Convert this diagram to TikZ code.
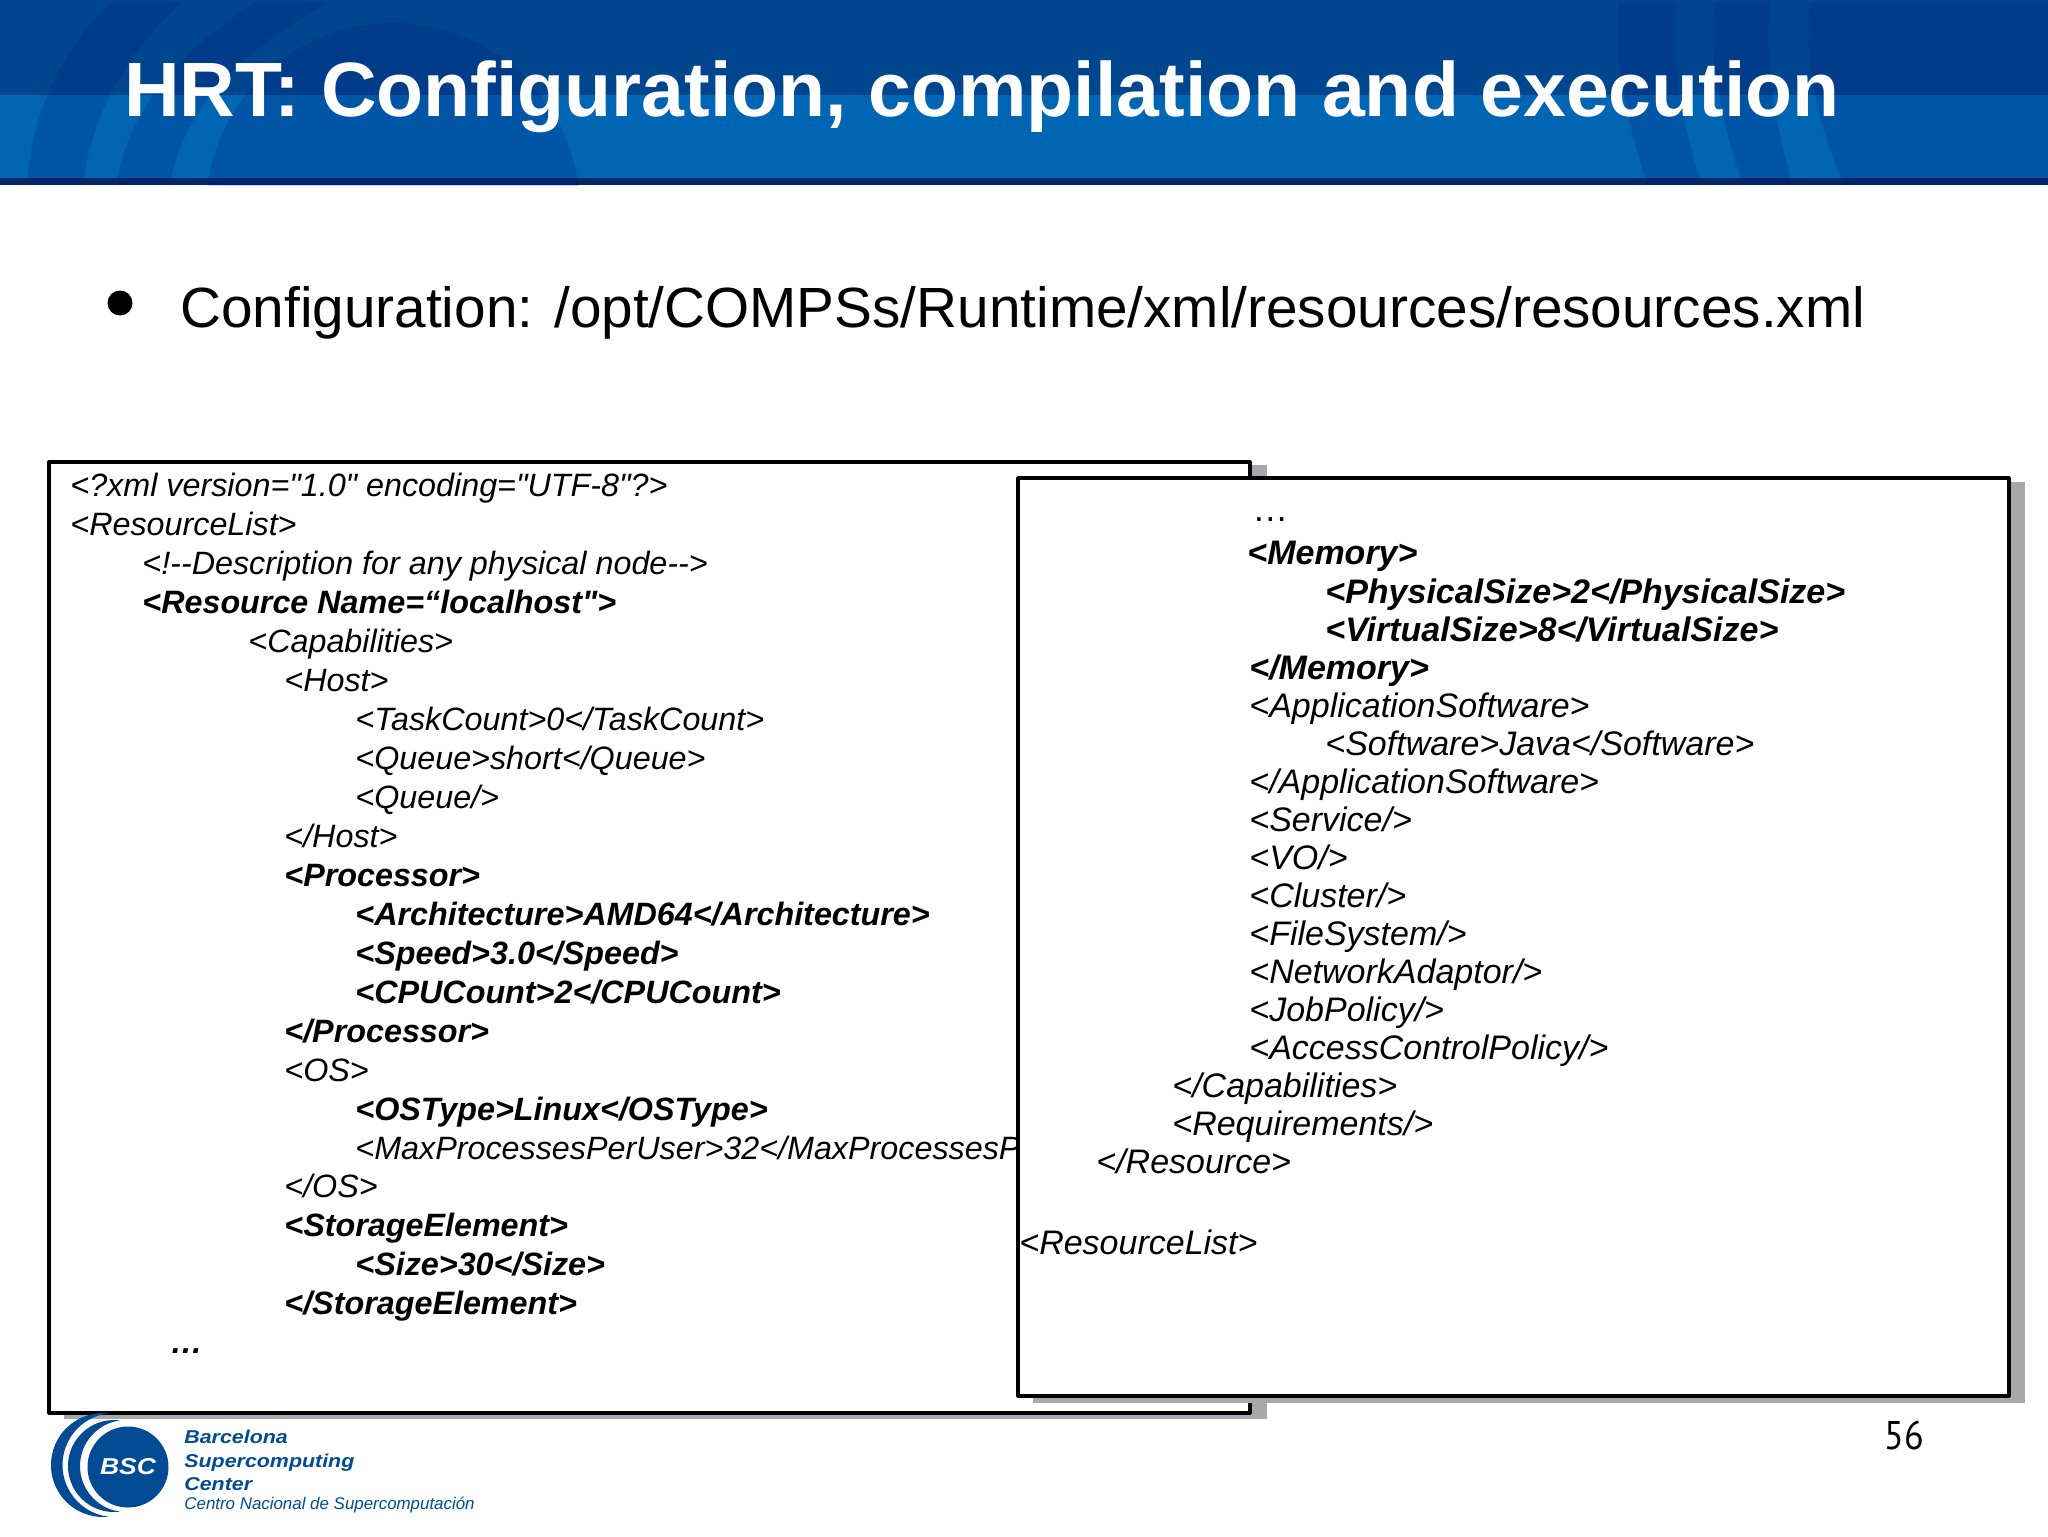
\documentclass[tikz,border=0pt]{standalone}
\usepackage{fontspec}
\setmainfont[Ligatures=TeXOff]{Liberation Sans}
\newfontfamily\logofont[FakeStretch=1.15]{Liberation Sans}
\newfontfamily\pagefont[FakeStretch=.9]{PT Sans}
\definecolor{bandtop}{RGB}{0,70,143}
\definecolor{bandlow}{RGB}{0,102,179}
\definecolor{bandline}{RGB}{0,40,105}
\definecolor{bandarc}{RGB}{0,20,120}
\definecolor{boxshade}{RGB}{169,167,171}
\definecolor{bscblue}{RGB}{0,75,147}
\tikzset{
	xmlnode/.style={anchor=base west,inner sep=0pt,font=\fontsize{16.15}{19}\selectfont\itshape},
	xmlbold/.style={xmlnode,font=\fontsize{16.15}{19}\selectfont\itshape\bfseries},
	memnode/.style={anchor=base west,inner sep=0pt,font=\fontsize{17}{20}\selectfont\itshape},
	membold/.style={memnode,font=\fontsize{17}{20}\selectfont\itshape\bfseries},
	panel/.style={draw=black,line width=1.6pt,fill=white},
	arcshade/.style={fill=bandarc,fill opacity=.2},
	logotext/.style={anchor=base west,inner sep=0pt,text=bscblue}
}
\begin{document}
\begin{tikzpicture}[x=0.5pt,y=-0.5pt,line join=round]
	\useasboundingbox (0,0) rectangle (2048,1536);
	% title band
	\fill[bandtop] (0,0) rectangle (2048,95);
	\fill[bandlow] (0,95) rectangle (2048,178);
	\fill[bandline] (0,178) rectangle (2048,185);
	\begin{scope}
		\clip (0,3) rectangle (2048,185);
		\fill[arcshade] (27,185) .. controls (32,110) and (62,50) .. (110,3) -- (181,3) .. controls (130,50) and (92,110) .. (83,185) -- cycle;
		\fill[arcshade] (116,185) .. controls (128,110) and (180,50) .. (255,3) -- (328,3) .. controls (240,50) and (182,110) .. (170,185) -- cycle;
		\fill[arcshade] (393,210) circle[radius=93.5pt];
		\fill[arcshade] (1619,3) .. controls (1613,50) and (1625,120) .. (1648,185) -- (1702,185) .. controls (1680,120) and (1671,50) .. (1677,3) -- cycle;
		\fill[arcshade] (1714,3) .. controls (1708,50) and (1720,120) .. (1743,185) -- (1793,185) .. controls (1773,120) and (1764,50) .. (1770,3) -- cycle;
		\fill[arcshade] (1809,3) .. controls (1806,60) and (1815,120) .. (1844,185) -- (2048,185) -- (2048,3) -- cycle;
	\end{scope}
	\node[anchor=base west,inner sep=0pt,text=white,font=\fontsize{38.5}{44}\selectfont\bfseries] (title) at (124,117) {HRT: Configuration, compilation and execution};
	% bullet
	\node[circle,fill=black,inner sep=0pt,minimum size=12.5pt] (dot) at (120,303) {};
	\node[anchor=base west,inner sep=0pt,font=\fontsize{28.35}{34}\selectfont] (config) at (180,327) {Configuration: /opt/COMPSs/Runtime/xml/resources/resources.xml};
	% left listing
	\fill[boxshade] (64,465) rectangle (1267,1419);
	\draw[panel] (49,462) rectangle (1250,1413);
	\node[xmlnode] (xmlhead) at (70,496) {<?xml version="1.0" encoding="UTF-8"?>};
	\node[xmlnode] (reslist) at (70,535) {<ResourceList>};
	\node[xmlnode] (descr) at (142,574) {<!--Description for any physical node-->};
	\node[xmlbold] (res) at (142,613) {<Resource Name=“localhost">};
	\node[xmlnode] (capab) at (248,652) {<Capabilities>};
	\node[xmlnode] (host) at (284,691) {<Host>};
	\node[xmlnode] (task) at (355,730) {<TaskCount>0</TaskCount>};
	\node[xmlnode] (queue) at (355,769) {<Queue>short</Queue>};
	\node[xmlnode] (queueb) at (355,808) {<Queue/>};
	\node[xmlnode] (hostend) at (284,847) {</Host>};
	\node[xmlbold] (proc) at (284,886) {<Processor>};
	\node[xmlbold] (arch) at (355,925) {<Architecture>AMD64</Architecture>};
	\node[xmlbold] (speed) at (355,964) {<Speed>3.0</Speed>};
	\node[xmlbold] (cpu) at (355,1003) {<CPUCount>2</CPUCount>};
	\node[xmlbold] (procend) at (284,1042) {</Processor>};
	\node[xmlnode] (os) at (284,1081) {<OS>};
	\node[xmlbold] (ostype) at (355,1120) {<OSType>Linux</OSType>};
	\node[xmlnode] (maxproc) at (355,1159) {<MaxProcessesPerUser>32</MaxProcessesPerUser>};
	\node[xmlnode] (osend) at (284,1197) {</OS>};
	\node[xmlbold] (stor) at (284,1236) {<StorageElement>};
	\node[xmlbold] (size) at (355,1275) {<Size>30</Size>};
	\node[xmlbold] (storend) at (284,1314) {</StorageElement>};
	\node[xmlbold] (dotsa) at (170,1353) {…};
	% right listing
	\fill[boxshade] (1033,482) rectangle (2025,1403);
	\draw[panel] (1018,478) rectangle (2009,1396);
	\node[anchor=base west,inner sep=0pt,font=\fontsize{18}{20}\selectfont] (dotsb) at (1252,521) {…};
	\node[membold] (mem) at (1247,564) {<Memory>};
	\node[membold] (phys) at (1325,603) {<PhysicalSize>2</PhysicalSize>};
	\node[membold] (virt) at (1325,641) {<VirtualSize>8</VirtualSize>};
	\node[membold] (memend) at (1249,679) {</Memory>};
	\node[memnode] (appsw) at (1249,717) {<ApplicationSoftware>};
	\node[memnode] (soft) at (1325,755) {<Software>Java</Software>};
	\node[memnode] (appswend) at (1249,793) {</ApplicationSoftware>};
	\node[memnode] (serv) at (1249,831) {<Service/>};
	\node[memnode] (vo) at (1249,869) {<VO/>};
	\node[memnode] (clus) at (1249,907) {<Cluster/>};
	\node[memnode] (fsys) at (1249,945) {<FileSystem/>};
	\node[memnode] (netad) at (1249,983) {<NetworkAdaptor/>};
	\node[memnode] (jobp) at (1249,1021) {<JobPolicy/>};
	\node[memnode] (accp) at (1249,1059) {<AccessControlPolicy/>};
	\node[memnode] (capend) at (1172,1097) {</Capabilities>};
	\node[memnode] (req) at (1172,1135) {<Requirements/>};
	\node[memnode] (resend) at (1096,1173) {</Resource>};
	\node[memnode] (listend) at (1019,1254) {<ResourceList>};
	% page number and logo
	\node[anchor=base west,inner sep=0pt,font=\fontsize{20}{24}\selectfont\pagefont] (pageno) at (1884,1449) {56};
	\fill[bscblue] (108.75,1413.3) arc[start angle=83.65,end angle=276.35,radius=26pt] arc[start angle=263.65,end angle=96.35,radius=26pt] -- cycle;
	\fill[bscblue] (120,1420.4) arc[start angle=82.5,end angle=277.5,radius=23pt] arc[start angle=262.5,end angle=97.5,radius=23pt] -- cycle;
	\node[circle,fill=bscblue,inner sep=0pt,minimum size=40.5pt,text=white,font=\logofont\fontsize{11.5}{14}\selectfont\itshape\bfseries] (bsc) at (128,1467) {BSC};
	\node[logotext,font=\logofont\fontsize{9.3}{11}\selectfont\itshape\bfseries] (bcn) at (184,1443) {Barcelona};
	\node[logotext,font=\logofont\fontsize{9.3}{11}\selectfont\itshape\bfseries] (sup) at (184,1467) {Supercomputing};
	\node[logotext,font=\logofont\fontsize{9.3}{11}\selectfont\itshape\bfseries] (cen) at (184,1490) {Center};
	\node[logotext,font=\fontsize{8.45}{10}\selectfont\itshape] (cnac) at (184,1509) {Centro Nacional de Supercomputación};
\end{tikzpicture}
\end{document}
